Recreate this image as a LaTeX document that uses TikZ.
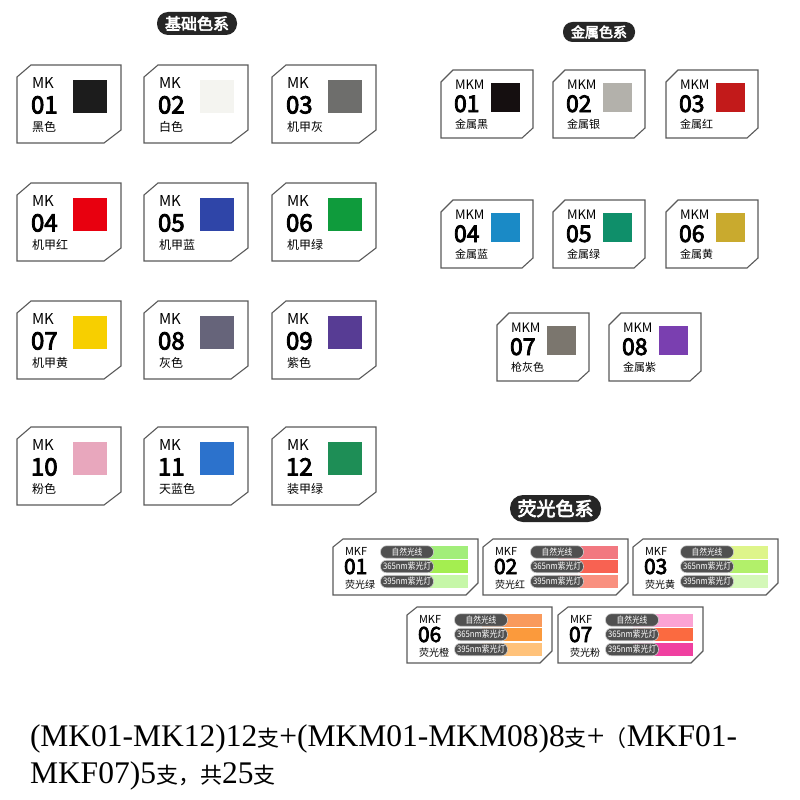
\documentclass[tikz,border=0pt]{standalone}
\usepackage{fontspec}
\setmainfont{Liberation Serif}
\newfontfamily\cjk{Noto Sans CJK SC}
\newfontfamily\cjkd[FakeBold=3.5]{Noto Sans CJK SC}
\newfontfamily\cjkn[FakeStretch=0.86]{Noto Sans CJK SC}
\newcommand\fs[1]{\fontsize{#1}{#1}\selectfont}

\definecolor{b01}{HTML}{1C1C1C}
\definecolor{b02}{HTML}{F4F4F0}
\definecolor{b03}{HTML}{6E6E6C}
\definecolor{b04}{HTML}{E8000F}
\definecolor{b05}{HTML}{2F45A8}
\definecolor{b06}{HTML}{0F9B3C}
\definecolor{b07}{HTML}{F7CF00}
\definecolor{b08}{HTML}{66647A}
\definecolor{b09}{HTML}{573C94}
\definecolor{b10}{HTML}{E8A7BD}
\definecolor{b11}{HTML}{2C72CC}
\definecolor{b12}{HTML}{1E8E56}
\definecolor{m01}{HTML}{150F10}
\definecolor{m02}{HTML}{B3B1AB}
\definecolor{m03}{HTML}{C21A1A}
\definecolor{m04}{HTML}{1A8AC6}
\definecolor{m05}{HTML}{0F8F6A}
\definecolor{m06}{HTML}{C9AA2E}
\definecolor{m07}{HTML}{7B766E}
\definecolor{m08}{HTML}{7A3FB0}
\definecolor{f1a}{HTML}{A2EE7A}
\definecolor{f1b}{HTML}{A4EE50}
\definecolor{f1c}{HTML}{C6F7A8}
\definecolor{f2a}{HTML}{F27880}
\definecolor{f2b}{HTML}{F86252}
\definecolor{f2c}{HTML}{F9907F}
\definecolor{f3a}{HTML}{DEF58A}
\definecolor{f3b}{HTML}{B2F06A}
\definecolor{f3c}{HTML}{D4F8B8}
\definecolor{f6a}{HTML}{F99A5C}
\definecolor{f6b}{HTML}{FB9A3C}
\definecolor{f6c}{HTML}{FFC27A}
\definecolor{f7a}{HTML}{FBA3D4}
\definecolor{f7b}{HTML}{FB6A40}
\definecolor{f7c}{HTML}{F040A0}
\definecolor{headfill}{HTML}{262626}
\definecolor{pillfill}{HTML}{505050}
\definecolor{cardline}{HTML}{5A5A5A}

\tikzset{
  card/.style={draw=cardline, line width=1.1pt, fill=white, line join=miter},
  lbl/.style={inner sep=0pt, outer sep=0pt},
  headpill/.style={fill=headfill},
  flpill/.style={fill=pillfill, draw=white!80!black, line width=0.6pt,
    rounded corners=6pt, minimum width=53pt, minimum height=12.5pt,
    inner sep=0pt, text=white, font=\cjkn\fs{9}},
}

\newcommand\bcard[5]{%
\begin{scope}[shift={(#1,#2)}]
\draw[card] (0,12) -- (14,0) -- (104,0) -- (104,65) -- (87,78) -- (0,78) -- cycle;
\fill[#5] (56,15) rectangle ++(34,33);
\node[lbl, anchor=base west, font=\cjk\fs{15}] (bmk#3) at (15,23.5) {MK};
\node[lbl, anchor=base west, font=\cjkd\fs{24}] (bnum#3) at (14,48.5) {#3};
\node[lbl, anchor=west, font=\cjk\fs{12}] (bname#3) at (15,62) {#4};
\end{scope}}

\newcommand\mcard[5]{%
\begin{scope}[shift={(#1,#2)}]
\draw[card] (0,12) -- (12,0) -- (92,0) -- (92,58) -- (81,68) -- (0,68) -- cycle;
\fill[#5] (49.5,12.5) rectangle ++(29,29.5);
\node[lbl, anchor=base west, font=\cjk\fs{13}] (mmk#3) at (14,19.5) {MKM};
\node[lbl, anchor=base west, font=\cjkd\fs{23}] (mnum#3) at (13,42) {#3};
\node[lbl, anchor=west, font=\cjk\fs{11}] (mname#3) at (14,54) {#4};
\end{scope}}

\newcommand\fcard[7]{%
\begin{scope}[shift={(#1,#2)}]
\draw[card] (0,8) -- (10,0) -- (145,0) -- (145,44) -- (133,56) -- (0,56) -- cycle;
\fill[#5] (75,6.5) rectangle (135,19.5);
\fill[#6] (75,21) rectangle (135,34);
\fill[#7] (75,36) rectangle (135,49);
\node[flpill] (fpa#3) at (74,13) {自然光线};
\node[flpill] (fpb#3) at (74,27.5) {365nm紫光灯};
\node[flpill] (fpc#3) at (74,42.5) {395nm紫光灯};
\node[lbl, anchor=base west, font=\cjk\fs{11}] (fmk#3) at (12,16) {MKF};
\node[lbl, anchor=base west, font=\cjkd\fs{21}] (fnum#3) at (11,35) {#3};
\node[lbl, anchor=west, font=\cjk\fs{10}] (fname#3) at (12,45.5) {#4};
\end{scope}}

\begin{document}
\begin{tikzpicture}[x=1pt, y=-1pt]
\useasboundingbox (0,0) rectangle (800,800);
\fill[white] (0,0) rectangle (800,800);

% headers
\fill[headpill, rounded corners=11pt] (157,12) rectangle (237,35);
\node[lbl, font=\cjkd\fs{16}, text=white] (h1) at (197,23.5) {基础色系};
\fill[headpill, rounded corners=9.5pt] (563,22) rectangle (635,42);
\node[lbl, font=\cjkd\fs{14}, text=white] (h2) at (599,32) {金属色系};
\fill[headpill, rounded corners=13pt] (510,495) rectangle (601,522);
\node[lbl, font=\cjkd\fs{19}, text=white] (h3) at (555.5,508.5) {荧光色系};

% basic
\bcard{17}{65}{01}{黑色}{b01}
\bcard{144}{65}{02}{白色}{b02}
\bcard{272}{65}{03}{机甲灰}{b03}
\bcard{17}{183}{04}{机甲红}{b04}
\bcard{144}{183}{05}{机甲蓝}{b05}
\bcard{272}{183}{06}{机甲绿}{b06}
\bcard{17}{301}{07}{机甲黄}{b07}
\bcard{144}{301}{08}{灰色}{b08}
\bcard{272}{301}{09}{紫色}{b09}
\bcard{17}{427}{10}{粉色}{b10}
\bcard{144}{427}{11}{天蓝色}{b11}
\bcard{272}{427}{12}{装甲绿}{b12}

% metal
\mcard{441}{70}{01}{金属黑}{m01}
\mcard{553}{70}{02}{金属银}{m02}
\mcard{666}{70}{03}{金属红}{m03}
\mcard{441}{200}{04}{金属蓝}{m04}
\mcard{553}{200}{05}{金属绿}{m05}
\mcard{666}{200}{06}{金属黄}{m06}
\mcard{497}{313}{07}{枪灰色}{m07}
\mcard{609}{313}{08}{金属紫}{m08}

% fluorescent
\fcard{333}{539}{01}{荧光绿}{f1a}{f1b}{f1c}
\fcard{483}{539}{02}{荧光红}{f2a}{f2b}{f2c}
\fcard{633}{539}{03}{荧光黄}{f3a}{f3b}{f3c}
\fcard{407}{607}{06}{荧光橙}{f6a}{f6b}{f6c}
\fcard{558}{607}{07}{荧光粉}{f7a}{f7b}{f7c}

% bottom text
\node[lbl, anchor=base west, font=\fs{31.5}] (t1) at (30,746)
  {(MK01-MK12)12{\cjk\fs{22}支}+(MKM01-MKM08)8{\cjk\fs{22}支}+{\cjk\fs{22}（}MKF01-};
\node[lbl, anchor=base west, font=\fs{31.5}] (t2) at (30,783)
  {MKF07)5{\cjk\fs{22}支，共}25{\cjk\fs{22}支}};
\end{tikzpicture}
\end{document}
